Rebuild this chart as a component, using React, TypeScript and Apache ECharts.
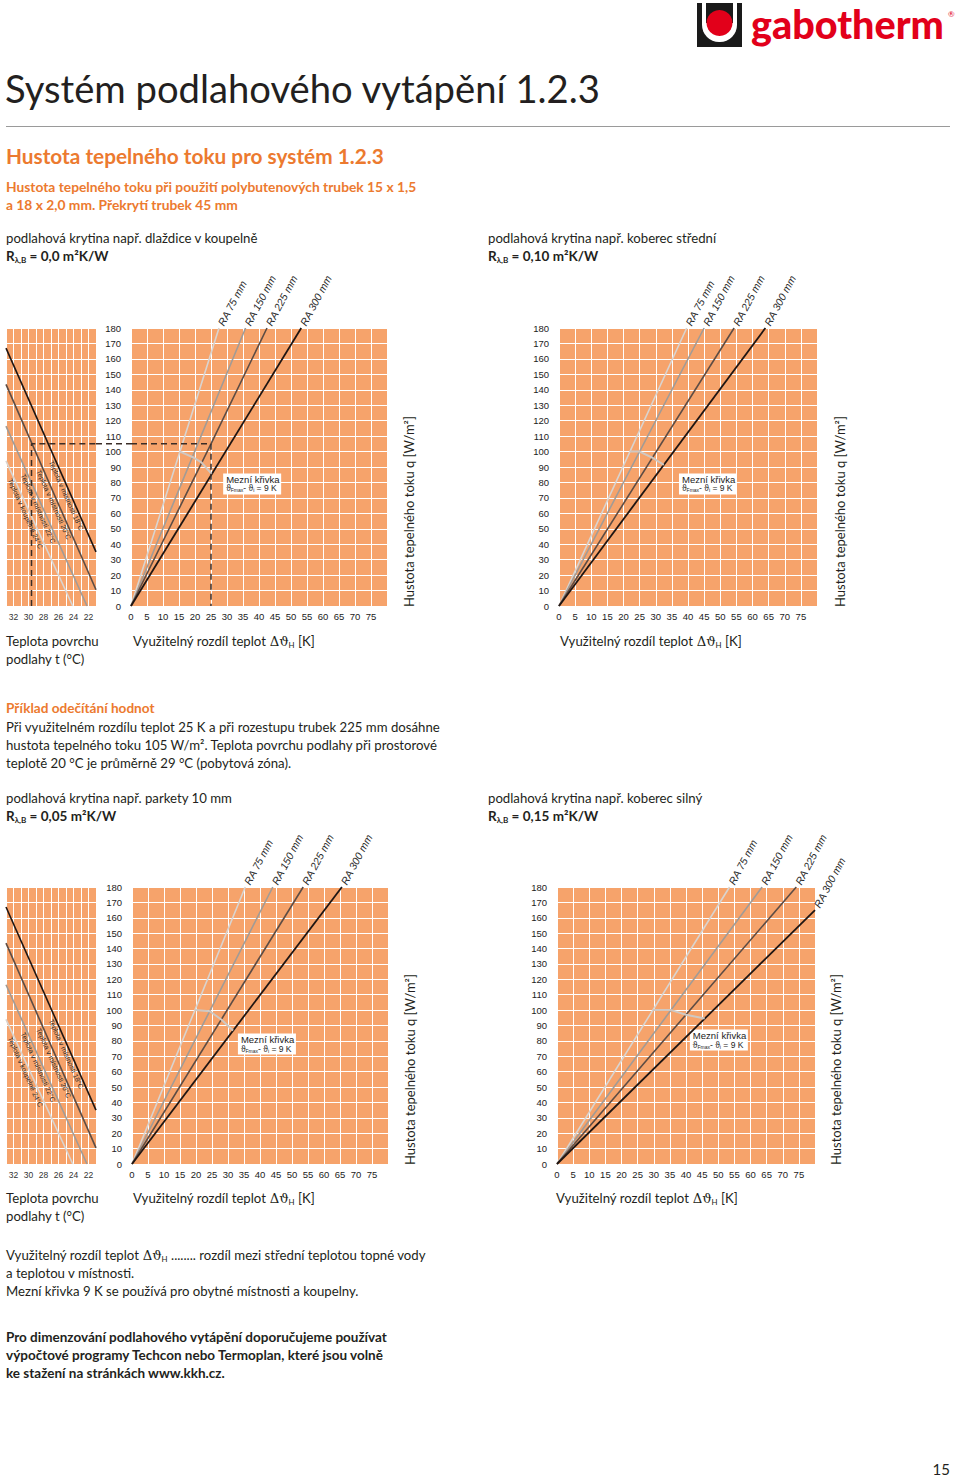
import React, { useEffect, useRef } from "react";
import * as echarts from "echarts";

const FONT = "Lato, 'Open Sans', 'DejaVu Sans', sans-serif";
const NARROW = "'Liberation Sans Narrow', 'Liberation Sans', Arial, sans-serif";
const SYM = "'DejaVu Serif', 'Liberation Serif', serif";
const DARK = "#231f20";
const ORANGE = "#ec7a2f";
const GRID_BG = "#f6a36b";
const BODY = 13.2;

// ---------------- data ----------------
const raNames = ["RA 75 mm", "RA 150 mm", "RA 225 mm", "RA 300 mm"];
const raColors = ["#d9d4d0", "#a19b96", "#5d4c44", "#1f1512"];

// R = 0,0 (tiles)  ΔϑH [K] -> q [W/m²]
const tilesRA75 = [[0, 0], [15.3, 100], [27.5, 180]];
const tilesRA150 = [[0, 0], [35.8, 180]];
const tilesRA225 = [[0, 0], [25, 105], [42.5, 180]];
const tilesRA300 = [[0, 0], [53.2, 180]];
const tilesLimit = [[15.3, 100], [19.2, 96.5], [22, 93], [25.2, 85.5]];

// R = 0,10 (carpet medium)
const carpetMidRA75 = [[0, 0], [39.6, 180]];
const carpetMidRA150 = [[0, 0], [45, 180]];
const carpetMidRA225 = [[0, 0], [54.3, 180]];
const carpetMidRA300 = [[0, 0], [64, 180]];
const carpetMidLimit = [[22, 100], [25, 100], [29, 96], [32.5, 91.4]];

// R = 0,05 (parquet)
const parquetRA75 = [[0, 0], [35.4, 180]];
const parquetRA150 = [[0, 0], [44, 180]];
const parquetRA225 = [[0, 0], [53.5, 180]];
const parquetRA300 = [[0, 0], [65.6, 180]];
const parquetLimit = [[19.7, 100], [24.3, 99.3], [27.9, 93.9], [31.6, 86.7]];

// R = 0,15 (carpet heavy)
const carpetHeavyRA75 = [[0, 0], [53.5, 180]];
const carpetHeavyRA150 = [[0, 0], [63.6, 180]];
const carpetHeavyRA225 = [[0, 0], [74.2, 180]];
const carpetHeavyRA300 = [[0, 0], [80, 165]];
const carpetHeavyLimit = [[29.7, 100], [35.4, 100], [40, 97], [45.8, 94.5]];

// floor surface temperature t [°C] -> q [W/m²]
const roomLabels = [
  "Teplota v místnosti 18°C",
  "Teplota v místnosti 20°C",
  "Teplota v místnosti 22°C",
  "Teplota v koupelně 24°C",
];
const roomColors = ["#1f1512", "#5d4c44", "#a19b96", "#d9d4d0"];
const room18 = [[33, 167], [21, 35]];
const room20 = [[33, 143.5], [21, 10.5]];
const room22 = [[33, 116.5], [22.2, 0]];
const room24 = [[33, 94], [24.1, 0]];
const roomLabelQ = [71.5, 65.6, 63, 59.8];

const surfaceTickLabels = [22, 24, 26, 28, 30, 32];

// reading example
const exampleDelta = 25;
const exampleQ = 105;
const exampleSurface = 29.6;

// ---------------- layout ----------------
const GRIDS = [
  { kind: "left", left: 6, top: 328, width: 90, height: 278 },
  { kind: "main", left: 131, top: 328, width: 256, height: 278 },
  { kind: "main", left: 559, top: 328, width: 258, height: 278 },
  { kind: "left", left: 6, top: 887, width: 90, height: 277 },
  { kind: "main", left: 132, top: 887, width: 256, height: 277 },
  { kind: "main", left: 557, top: 887, width: 258, height: 277 },
];

const panels = [
  { grid: 1, lines: [tilesRA75, tilesRA150, tilesRA225, tilesRA300], limit: tilesLimit, box: [28.8, 85.8], titleX: 409 },
  { grid: 2, lines: [carpetMidRA75, carpetMidRA150, carpetMidRA225, carpetMidRA300], limit: carpetMidLimit, box: [37.2, 85.8], titleX: 840 },
  { grid: 4, lines: [parquetRA75, parquetRA150, parquetRA225, parquetRA300], limit: parquetLimit, box: [33.1, 84.8], titleX: 410 },
  { grid: 5, lines: [carpetHeavyRA75, carpetHeavyRA150, carpetHeavyRA225, carpetHeavyRA300], limit: carpetHeavyLimit, box: [41.2, 87.4], titleX: 836 },
];
const leftPanels = [0, 3];
const roomLines = [room18, room20, room22, room24];

function buildOption(): any {
  const grid = GRIDS.map((g) => ({
    left: g.left, top: g.top, width: g.width, height: g.height,
    show: true, backgroundColor: GRID_BG, borderWidth: 0,
  }));
  const xAxis: any[] = [];
  const yAxis: any[] = [];
  const split = { show: true, lineStyle: { color: "#ffffff", width: 1 } };
  GRIDS.forEach((g, i) => {
    if (g.kind === "left") {
      xAxis.push({
        type: "value", gridIndex: i, inverse: true, min: 21, max: 33, interval: 1,
        axisLine: { show: false }, axisTick: { show: false }, splitLine: split,
        axisLabel: {
          margin: 6, fontSize: 8.5, color: "#333", fontFamily: NARROW,
          formatter: (v: number) => (surfaceTickLabels.includes(v) ? String(v) : ""),
        },
      });
      yAxis.push({
        type: "value", gridIndex: i, min: 0, max: 180, interval: 10,
        axisLine: { show: false }, axisTick: { show: false }, splitLine: split,
        axisLabel: { show: false },
      });
    } else {
      xAxis.push({
        type: "value", gridIndex: i, min: 0, max: 80, interval: 5,
        axisLine: { show: false }, axisTick: { show: false }, splitLine: split,
        axisLabel: {
          margin: 5, fontSize: 9.5, color: "#222", fontFamily: NARROW,
          formatter: (v: number) => (v === 80 ? "" : String(v)),
        },
      });
      yAxis.push({
        type: "value", gridIndex: i, min: 0, max: 180, interval: 10,
        axisLine: { show: false }, axisTick: { show: false }, splitLine: split,
        axisLabel: { margin: 10, fontSize: 9.5, color: "#222", fontFamily: NARROW },
      });
    }
  });

  const series: any[] = [];
  const lineSeries = (gi: number, data: number[][], color: string, width: number, type: any = "solid", z = 3) => ({
    type: "line", xAxisIndex: gi, yAxisIndex: gi, data, symbol: "none", silent: true, z,
    lineStyle: { color, width, type },
  });
  leftPanels.forEach((gi) => {
    roomLines.forEach((d, j) => series.push(lineSeries(gi, d, roomColors[j], 1.6)));
  });
  panels.forEach((p) => {
    p.lines.forEach((d, j) => series.push(lineSeries(p.grid, d, raColors[j], j === 3 ? 1.8 : 1.6)));
    series.push(lineSeries(p.grid, p.limit, "#cfc8c2", 2, "solid", 4));
  });
  // reading example (dashed)
  series.push(lineSeries(0, [[exampleSurface, 0], [exampleSurface, exampleQ], [21, exampleQ]], "#3b2d27", 1.5, [6, 4], 5));
  series.push(lineSeries(1, [[0, exampleQ], [exampleDelta, exampleQ], [exampleDelta, 0]], "#3b2d27", 1.5, [6, 4], 5));

  return { animation: false, backgroundColor: "#ffffff", grid, xAxis, yAxis, series };
}

function txt(x: number, y: number, text: string, extra: any = {}, rich?: any): any {
  return {
    type: "text", x, y, silent: true, z: 10,
    style: {
      text, fill: DARK, fontSize: BODY, fontFamily: FONT,
      align: "left", textAlign: "left", verticalAlign: "middle", textVerticalAlign: "middle",
      ...(rich ? { rich } : {}),
      ...extra,
    },
  };
}

const richBase = (fs: number, weight: string = "normal", color: string = DARK) => ({
  n: { fontSize: fs, fontFamily: FONT, fontWeight: weight, fill: color, lineHeight: fs + 3 },
  b: { fontSize: fs, fontFamily: FONT, fontWeight: "bold", fill: color, lineHeight: fs + 3 },
  sym: { fontSize: fs, fontFamily: SYM, fontWeight: weight, fill: color, lineHeight: fs + 3 },
  s: { fontSize: fs * 0.6, fontFamily: FONT, fontWeight: weight, fill: color, lineHeight: fs * 0.6, verticalAlign: "bottom" },
});

function buildGraphics(chart: any): any[] {
  const px = (gi: number, p: number[]) => chart.convertToPixel({ gridIndex: gi }, p) as number[];
  const els: any[] = [];

  // logo
  els.push({ type: "rect", shape: { x: 697, y: 3, width: 45, height: 44 }, style: { fill: "#1a1a1a" }, silent: true });
  els.push({ type: "rect", shape: { x: 702, y: 3, width: 35, height: 39, r: [0, 0, 17, 17] }, style: { fill: "#ffffff" }, silent: true });
  els.push({ type: "rect", shape: { x: 706, y: 3, width: 27, height: 20 }, style: { fill: "#1a1a1a" }, silent: true });
  els.push({ type: "circle", shape: { cx: 719.5, cy: 23, r: 13 }, style: { fill: "#e2001a" }, silent: true });
  els.push(txt(751, 23, "gabotherm", { fontSize: 39.5, fontWeight: 900, fill: "#e2001a" }));
  els.push(txt(948, 14, "®", { fontSize: 8, fill: "#e2001a" }));

  // headings
  els.push(txt(5, 88, "Systém podlahového vytápění 1.2.3", { fontSize: 38.2 }));
  els.push({ type: "line", shape: { x1: 6, y1: 126.5, x2: 950, y2: 126.5 }, style: { stroke: "#9a9a9a", lineWidth: 1 }, silent: true });
  els.push(txt(6, 155, "Hustota tepelného toku pro systém 1.2.3", { fontSize: 20.8, fontWeight: "bold", fill: ORANGE }));
  els.push(txt(6, 186, "Hustota tepelného toku při použití polybutenových trubek 15 x 1,5", { fontSize: 13.8, fontWeight: "bold", fill: ORANGE }));
  els.push(txt(6, 204, "a 18 x 2,0 mm. Překrytí trubek 45 mm", { fontSize: 13.8, fontWeight: "bold", fill: ORANGE }));

  const floor = (x: number, y: number, label: string, r: string) => {
    els.push(txt(x, y, label));
    els.push(txt(x, y + 18, `{b|R}{s|λ,B}{b| = ${r} m²K/W}`, {}, { ...richBase(13.5, "bold") }));
  };
  floor(6, 238, "podlahová krytina např. dlaždice v koupelně", "0,0");
  floor(488, 238, "podlahová krytina např. koberec střední", "0,10");
  floor(6, 798, "podlahová krytina např. parkety 10 mm", "0,05");
  floor(488, 798, "podlahová krytina např. koberec silný", "0,15");

  const deltaLabel = "{n|Využitelný rozdíl teplot }{sym|Δϑ}{s|H}{n| [K]}";
  [[133, 641], [560, 641], [133, 1198], [556, 1198]].forEach(([x, y]) => els.push(txt(x, y, deltaLabel, {}, richBase(13.2))));
  [641, 1198].forEach((y) => {
    els.push(txt(6, y, "Teplota povrchu"));
    els.push(txt(6, y + 18, "podlahy t (°C)"));
  });

  els.push(txt(6, 708, "Příklad odečítání hodnot", { fontWeight: "bold", fill: ORANGE, fontSize: 13.6 }));
  els.push(txt(6, 727, "Při využitelném rozdílu teplot 25 K a při rozestupu trubek 225 mm dosáhne"));
  els.push(txt(6, 745, "hustota tepelného toku 105 W/m². Teplota povrchu podlahy při prostorové"));
  els.push(txt(6, 763, "teplotě 20 °C je průměrně 29 °C (pobytová zóna)."));

  els.push(txt(6, 1255, "{n|Využitelný rozdíl teplot }{sym|Δϑ}{s|H}{n| ........ rozdíl mezi střední teplotou topné vody}", {}, richBase(13.2)));
  els.push(txt(6, 1273, "a teplotou v místnosti."));
  els.push(txt(6, 1291, "Mezní křivka 9 K se používá pro obytné místnosti a koupelny."));
  els.push(txt(6, 1337, "Pro dimenzování podlahového vytápění doporučujeme používat", { fontWeight: "bold", fontSize: 13.5 }));
  els.push(txt(6, 1355, "výpočtové programy Techcon nebo Termoplan, které jsou volně", { fontWeight: "bold", fontSize: 13.5 }));
  els.push(txt(6, 1373, "ke stažení na stránkách www.kkh.cz.", { fontWeight: "bold", fontSize: 13.5 }));
  els.push(txt(950, 1469, "15", { fontSize: 15, align: "right", textAlign: "right" }));

  // panels: RA labels, limit box, vertical title
  panels.forEach((p) => {
    p.lines.forEach((line, j) => {
      const [x, y] = px(p.grid, line[line.length - 1]);
      els.push({
        type: "text", x: x + 2, y: y - 3, rotation: (62 * Math.PI) / 180, silent: true, z: 10,
        style: {
          text: raNames[j], fontSize: 10.5, fontStyle: "italic", fontFamily: NARROW, fill: "#2a2a2a",
          align: "left", textAlign: "left", verticalAlign: "middle", textVerticalAlign: "middle",
        },
      });
    });
    const [bx, by] = px(p.grid, p.box);
    els.push({
      type: "group", x: bx, y: by, z: 10, silent: true,
      children: [
        { type: "rect", shape: { x: 0, y: 0, width: 58, height: 21 }, style: { fill: "#ffffff" } },
        { type: "text", x: 3, y: 6, style: { text: "Mezní křivka", fontSize: 9.5, fontFamily: NARROW, fill: "#222", verticalAlign: "middle", textVerticalAlign: "middle" } },
        {
          type: "text", x: 3, y: 15,
          style: {
            text: "{t|ϑ}{s|Fmax}{t|- ϑ}{s|i}{t| = 9 K}", verticalAlign: "middle", textVerticalAlign: "middle",
            rich: {
              t: { fontSize: 8.5, fontFamily: NARROW, fill: "#222", lineHeight: 9 },
              s: { fontSize: 5, fontFamily: NARROW, fill: "#222", lineHeight: 5, verticalAlign: "bottom" },
            },
          },
        },
      ],
    });
    const [, gy] = px(p.grid, [0, 0]);
    els.push({
      type: "text", x: p.titleX, y: gy + 1, rotation: Math.PI / 2, silent: true, z: 10,
      style: {
        text: "Hustota tepelného toku q [W/m²]", fontSize: 13, fontFamily: FONT, fill: DARK,
        align: "left", textAlign: "left", verticalAlign: "middle", textVerticalAlign: "middle",
      },
    });
  });

  // room temperature labels on left panels
  leftPanels.forEach((gi) => {
    roomLines.forEach((line, j) => {
      const [[t0, q0], [t1, q1]] = line;
      const q = roomLabelQ[j];
      const t = t0 + ((q - q0) * (t1 - t0)) / (q1 - q0);
      const [x, y] = px(gi, [t, q]);
      els.push({
        type: "text", x: x - 5, y, rotation: (-66 * Math.PI) / 180, silent: true, z: 10,
        style: {
          text: roomLabels[j], fontSize: 7, fontFamily: NARROW, fill: "#2a2a2a",
          align: "center", textAlign: "center", verticalAlign: "middle", textVerticalAlign: "middle",
        },
      });
    });
  });

  // dashed example across the gap between the two grids
  const a = px(0, [21, exampleQ]);
  const b = px(1, [0, exampleQ]);
  els.push({ type: "line", shape: { x1: a[0], y1: a[1], x2: b[0], y2: b[1] }, style: { stroke: "#3b2d27", lineWidth: 1.5, lineDash: [6, 4] }, silent: true, z: 10 });

  return els;
}

export default function App() {
  const ref = useRef<HTMLDivElement>(null);
  useEffect(() => {
    const el = ref.current!;
    const chart = echarts.init(el, undefined, { renderer: "svg" });
    chart.setOption(buildOption());
    chart.setOption({ graphic: buildGraphics(chart) });
    return () => chart.dispose();
  }, []);
  return (
    <div
      ref={ref}
      style={{ position: "absolute", left: 0, top: 0, width: 960, height: 1478, background: "#fff" }}
    />
  );
}
